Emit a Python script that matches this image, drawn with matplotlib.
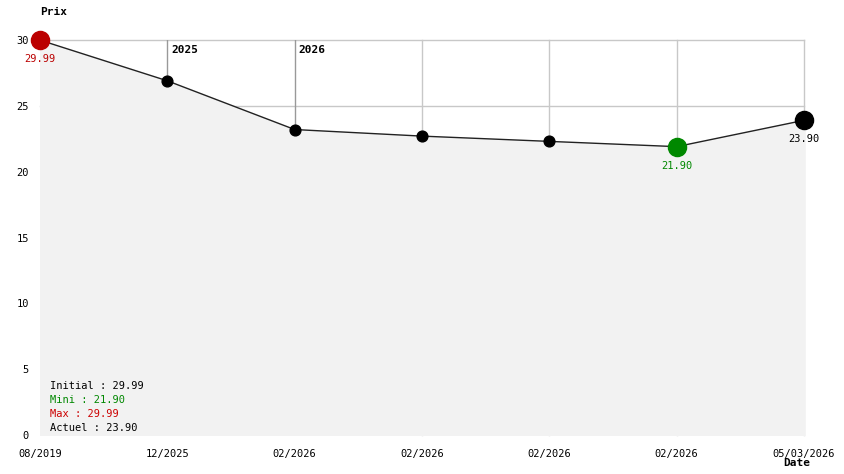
import matplotlib
matplotlib.use('Agg')
import matplotlib.pyplot as plt

# donnees
dates = ['08/2019', '12/2025', '02/2026', '02/2026', '02/2026', '02/2026', '05/03/2026']
prix = [29.99, 26.9, 23.2, 22.7, 22.3, 21.90, 23.90]
annees = {1: '2025', 2: '2026'}
yticks = [0, 5, 10, 15, 20, 25, 30]

plt.rcParams['font.family'] = 'DejaVu Sans Mono'
fig = plt.figure(figsize=(8.44, 4.74), dpi=100)
ax = fig.add_axes([40/844, 39/474, 764/844, 395/474])

x = list(range(len(prix)))
ax.set_xlim(0, len(prix) - 1)
ax.set_ylim(0, 30)

# grille
for v in [25, 30]:
    ax.axhline(v, color='#c8c8c8', lw=1, zorder=1, clip_on=False)
for i in x[1:]:
    if i not in annees:
        ax.axvline(i, color='#c8c8c8', lw=1, zorder=1, clip_on=False)

ax.fill_between(x, prix, 0, color='#f2f2f2', zorder=2)

# reperes des annees
for i, a in annees.items():
    ax.plot([i, i], [prix[i], 30], color='#999999', lw=1, zorder=3)
    ax.text(i + 0.03, 29.6, a, fontsize=8, fontweight='bold', va='top', ha='left', zorder=3)

ax.plot(x, prix, color='#222222', lw=1, zorder=4)
ax.scatter(x[1:-2], prix[1:-2], s=60, color='black', zorder=5)
i_min = prix.index(min(prix))
ax.scatter([0], [prix[0]], s=170, color='#bb0000', zorder=6, clip_on=False)
ax.scatter([i_min], [prix[i_min]], s=170, color='#008800', zorder=6, clip_on=False)
ax.scatter([x[-1]], [prix[-1]], s=170, color='black', zorder=6, clip_on=False)

ax.annotate('%.2f' % prix[0], (0, prix[0]), xytext=(0, -10), textcoords='offset points',
            ha='center', va='top', fontsize=7.5, color='#bb0000')
ax.annotate('%.2f' % prix[i_min], (i_min, prix[i_min]), xytext=(0, -10), textcoords='offset points',
            ha='center', va='top', fontsize=7.5, color='#008800')
ax.annotate('%.2f' % prix[-1], (x[-1], prix[-1]), xytext=(0, -10), textcoords='offset points',
            ha='center', va='top', fontsize=7.5, color='black')

# resume
lignes = [('Initial : %.2f' % prix[0], 'black'),
          ('Mini : %.2f' % min(prix), '#008800'),
          ('Max : %.2f' % max(prix), '#cc0000'),
          ('Actuel : %.2f' % prix[-1], 'black')]
for k, (t, c) in enumerate(lignes):
    ax.text(10/764, (435 - 386 - k*14) / 395, t, transform=ax.transAxes,
            fontsize=7.5, color=c, va='center', ha='left', zorder=7)

for s in ax.spines.values():
    s.set_visible(False)
ax.set_yticks(yticks)
ax.set_xticks(x)
ax.set_xticklabels(dates)
ax.tick_params(length=0, labelsize=7.5)
ax.tick_params(axis='x', pad=10)
ax.tick_params(axis='y', pad=8)

fig.text(40/844, 1 - 12/474, 'Prix', fontsize=8, fontweight='bold', va='center', ha='left')
fig.text(783/844, 1 - 463/474, 'Date', fontsize=8, fontweight='bold', va='center', ha='left')

fig.savefig('out.png', dpi=100)
